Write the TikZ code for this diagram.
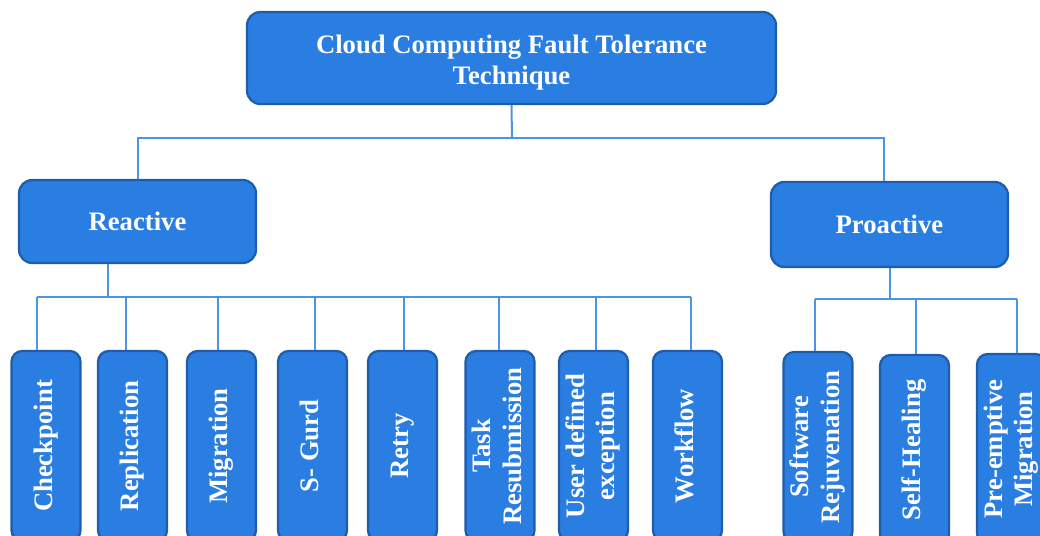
\documentclass[tikz,border=0pt]{standalone}
\usepackage{fontspec}
\setmainfont{Liberation Serif}
\definecolor{boxfill}{RGB}{42,126,226}
\definecolor{boxedge}{RGB}{30,92,172}
\definecolor{wire}{RGB}{78,148,230}
\newcommand{\vlabel}[1]{\rotatebox{90}{\begin{tabular}{@{}c@{}}#1\end{tabular}}}
\begin{document}
\begin{tikzpicture}[x=0.75pt,y=-0.75pt,
  box/.style={draw=boxedge, line width=1.7pt, fill=boxfill, rounded corners=10pt,
    text=white, font=\fontsize{20}{23}\selectfont\bfseries, inner sep=0pt, align=center},
  headbox/.style={box, minimum width=177.75pt},
  leaf/.style={box, rounded corners=8pt, minimum width=51.75pt, minimum height=142.5pt},
  wireline/.style={draw=wire, line width=1.5pt}]
\useasboundingbox (0,0) rectangle (1040,536);
\clip (0,0) rectangle (1040,536);

% root and the two families
\node[box, minimum width=396.75pt, minimum height=69pt] (root) at (511.5,58)
  {\raisebox{-3.5pt}[\height][\depth]{\fontsize{20}{23.5}\selectfont\begin{tabular}{@{}c@{}}Cloud Computing Fault Tolerance\\Technique\end{tabular}}};
\node[headbox, minimum height=62.25pt] (reactive) at (137.5,221.5) {Reactive};
\node[headbox, minimum height=63.75pt] (proactive) at (889.5,224.5) {Proactive};

% reactive techniques
\node[leaf] (checkpoint) at (46,446)    {\vlabel{Checkpoint}};
\node[leaf] (replication) at (132.5,446) {\vlabel{Replication}};
\node[leaf] (migration) at (221.5,446)  {\vlabel{Migration}};
\node[leaf] (sgurd) at (312.5,446)      {\vlabel{S- Gurd}};
\node[leaf] (retry) at (402.5,446)      {\vlabel{Retry}};
\node[leaf] (resub) at (500,446)        {\vlabel{Task\\Resubmission}};
\node[leaf] (userdef) at (593.5,446)    {\vlabel{User defined\\exception}};
\node[leaf] (workflow) at (687.5,446)   {\vlabel{Workflow}};

% proactive techniques
\node[leaf] (rejuv) at (818,447)        {\vlabel{Software\\Rejuvenation}};
\node[leaf] (heal) at (914.5,450)       {\vlabel{Self-Healing}};
\node[leaf] (premig) at (1011.5,449)    {\vlabel{Pre-emptive\\Migration}};

% bus lines
\coordinate (topbus) at (512,138);
\coordinate (pbus) at (884,138);
\coordinate (rbus) at (108,297);
\coordinate (rbusL) at (37,297);
\coordinate (rbusR) at (691,297);
\coordinate (qbus) at (889.5,299);
\coordinate (qbusL) at (815,299);
\coordinate (qbusR) at (1017,299);

\draw[wireline] (root.south) -- (topbus);
\draw[wireline] (topbus) -| (reactive.north);
\draw[wireline] (topbus) -- (pbus) -- (pbus |- proactive.north);

\draw[wireline] (reactive.south -| rbus) -- (rbus);
\draw[wireline] (rbusL) -- (rbusR);
\foreach \n/\x in {checkpoint/37, replication/126, migration/218, sgurd/315,
                   retry/404, resub/499, userdef/596, workflow/691}{
  \coordinate (tap-\n) at (\x,297);
  \draw[wireline] (tap-\n) -- (\n.north -| tap-\n);
}

\draw[wireline] (proactive.south) -- (qbus);
\draw[wireline] (qbusL) -- (qbusR);
\foreach \n/\x in {rejuv/815, heal/916, premig/1017}{
  \coordinate (tap-\n) at (\x,299);
  \draw[wireline] (tap-\n) -- (\n.north -| tap-\n);
}
\end{tikzpicture}
\end{document}
